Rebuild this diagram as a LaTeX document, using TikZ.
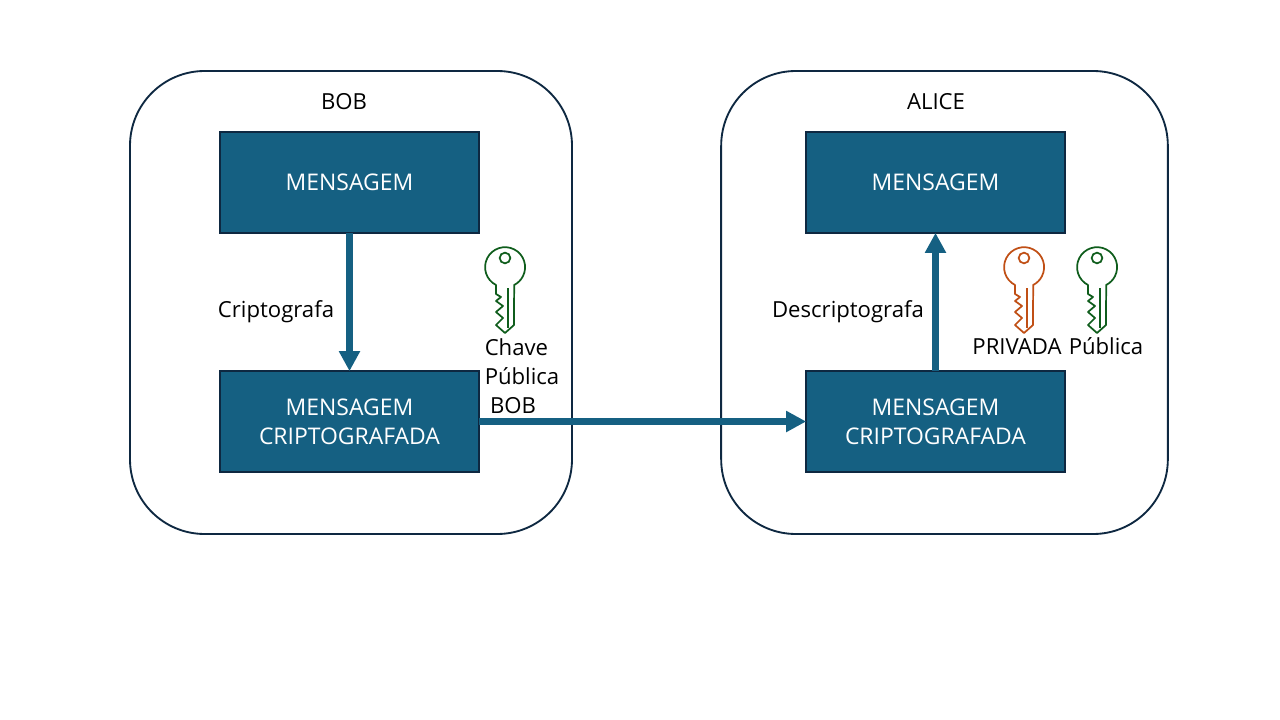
\documentclass[tikz,border=0pt]{standalone}
\usepackage{fontspec}
\setmainfont{Open Sans}
\usetikzlibrary{arrows.meta}
\definecolor{boxblue}{HTML}{156082}
\definecolor{boxedge}{HTML}{0E2841}
\definecolor{keygreen}{HTML}{0F5D1C}
\definecolor{keyorange}{HTML}{C04F15}
\tikzset{>/.tip={Triangle[length=15pt, width=15pt]},
  every node/.style={font=\fontsize{16.6}{21.75}\selectfont},
  party/.style={draw=boxedge, line width=1.4pt, rounded corners=56pt, minimum height=347.25pt, outer sep=0pt},
  msgbox/.style={draw=boxedge, fill=boxblue, line width=1.1pt, text=white, minimum width=194pt, minimum height=75.5pt, align=center, outer sep=0pt, font=\fontsize{17.2}{21.75}\selectfont},
  flow/.style={->, draw=boxblue, line width=5pt},
  lbl/.style={inner sep=0pt, align=left},
  pics/chave/.style={code={
    \draw[draw=#1, line width=1.3pt, line join=round]
      (-9,18) arc[start angle=243, end angle=-63, radius=15pt]
      -- (9,58) -- (0,66) -- (-9,58) -- (-2,51) -- (-9,45) -- (-2,39) -- (-9,34) -- (-4,30) -- (-9,27) -- cycle;
    \draw[draw=#1, line width=1.3pt] (0,-9) circle[radius=4pt];
    \draw[draw=#1, line width=1.3pt] (3,21) -- (3,61);
  }}}
\begin{document}
\begin{tikzpicture}[x=0.75pt, y=-0.75pt]
 \useasboundingbox (0,0) rectangle (1280,720);

 \node[party, minimum width=331.5pt] (bob)   at (351, 302.5) {};
 \node[party, minimum width=335pt]   (alice) at (944.5, 302.5) {};

 \node[lbl] (tbob)   at (344, 102) {BOB};
 \node[lbl] (talice) at (936, 102) {ALICE};

 \node[msgbox] (m1) at (349.5, 182.5) {MENSAGEM};
 \node[msgbox] (c1) at (349.5, 421.5) {MENSAGEM\\CRIPTOGRAFADA};
 \node[msgbox] (m2) at (935.5, 182.5) {MENSAGEM};
 \node[msgbox] (c2) at (935.5, 421.5) {MENSAGEM\\CRIPTOGRAFADA};

 \draw[flow] (m1) -- (c1);
 \draw[flow] (c1) -- (c2);
 \draw[flow] (c2) -- (m2);

 \node[lbl] (cript)   at (276, 312) {Criptografa};
 \node[lbl] (descr)   at (848, 312) {Descriptografa};
 \node[lbl] (chave)   at (522, 376) {Chave\\Pública\\\hspace{4pt}BOB};
 \node[lbl] (priv)    at (1017, 347) {PRIVADA};
 \node[lbl] (pub)     at (1106, 346) {Pública};

 \pic at (505, 267)  {chave=keygreen};
 \pic at (1024, 267) {chave=keyorange};
 \pic at (1097, 267) {chave=keygreen};
\end{tikzpicture}
\end{document}
